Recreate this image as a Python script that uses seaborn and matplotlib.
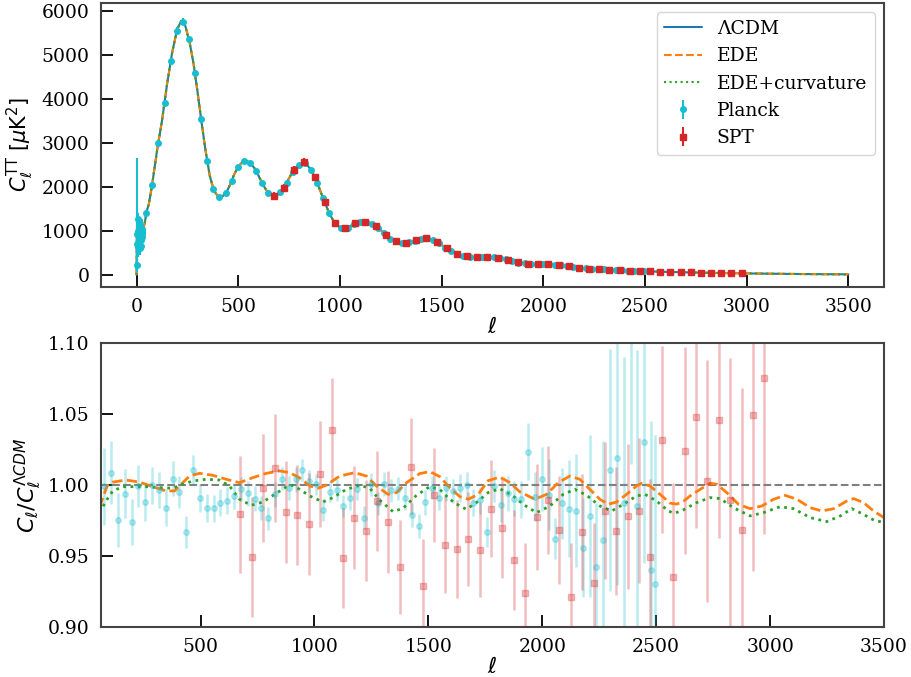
import numpy as np
import matplotlib
matplotlib.use('Agg')
import matplotlib.pyplot as plt
import seaborn as sns


# LCDM theory spectrum D_ell [muK^2] (EDE curves sit on top of it at this scale)
ell_th = [0, 2, 5, 10, 15, 20, 30, 40, 50, 60, 75, 100, 125, 150, 175, 200, 220, 240, 260, 280,
          300, 320, 340, 360, 380, 400, 420, 440, 460, 480, 500, 520, 540, 560, 580, 600, 620, 640,
          660, 680, 700, 720, 740, 760, 780, 800, 820, 840, 860, 880, 900, 920, 940, 960, 980, 1000,
          1020, 1040, 1060, 1080, 1100, 1120, 1140, 1160, 1180, 1200, 1220, 1240, 1260, 1280, 1300,
          1320, 1340, 1360, 1380, 1400, 1420, 1440, 1460, 1480, 1500, 1520, 1540, 1560, 1580, 1600,
          1640, 1680, 1720, 1760, 1800, 1840, 1880, 1920, 1960, 2000, 2040, 2080, 2120, 2160, 2200,
          2240, 2280, 2320, 2360, 2400, 2440, 2480, 2520, 2560, 2600, 2700, 2800, 2900, 3000, 3100,
          3200, 3300, 3400, 3500]
dl_lcdm = [0, 1010, 860, 800, 820, 870, 1000, 1170, 1450, 1600, 2000, 2800, 3500, 4330, 5050, 5580,
           5770, 5650, 5300, 4800, 4150, 3450, 2800, 2250, 1920, 1780, 1770, 1860, 2050, 2280, 2460,
           2560, 2590, 2540, 2420, 2250, 2060, 1910, 1820, 1800, 1840, 1950, 2110, 2280, 2420, 2510,
           2540, 2490, 2370, 2170, 1950, 1710, 1480, 1290, 1150, 1080, 1060, 1080, 1130, 1180, 1210,
           1215, 1200, 1160, 1100, 1020, 930, 850, 790, 755, 735, 730, 740, 765, 795, 820, 830, 820,
           790, 740, 680, 615, 560, 510, 470, 440, 410, 400, 400, 395, 370, 330, 290, 260, 245, 240,
           235, 222, 195, 168, 150, 140, 130, 118, 108, 102, 95, 87, 80, 74, 68, 58, 47, 40, 33, 27,
           22, 18, 15, 12]

# ratio of the EDE models to LCDM
ell_ede = [56, 90, 115, 173, 232, 291, 349, 386, 422, 452, 496, 554, 613, 671, 730, 789, 847, 891,
           935, 979, 1016, 1052, 1111, 1177, 1228, 1272, 1323, 1360, 1404, 1462, 1506, 1550, 1594,
           1638, 1675, 1719, 1762, 1814, 1858, 1902, 1968, 2019, 2070, 2121, 2165, 2209, 2253, 2290,
           2326, 2370, 2414, 2436, 2473, 2517, 2561, 2590, 2620, 2649, 2693, 2737, 2766, 2810, 2861,
           2912, 2964, 3015, 3066, 3118, 3176, 3227, 3279, 3337, 3367, 3410, 3454, 3500]
ratio_ede = [0.984, 0.9993, 1.002, 1.0035, 1.002, 0.9988, 0.9958, 0.9958, 1.0016, 1.0063, 1.0082,
             1.0068, 1.004, 1.0016, 1.0052, 1.0082, 1.0099, 1.0087, 1.005, 0.9993, 0.9977, 0.9998,
             1.0063, 1.0087, 1.0063, 0.9993, 0.9934, 0.9946, 1.0016, 1.008, 1.0094, 1.0059, 0.9981,
             0.9918, 0.9899, 0.9934, 1.003, 1.0056, 1.0016, 0.9951, 0.9899, 0.9934, 1.0016, 1.0063,
             1.004, 0.9969, 0.9899, 0.9864, 0.988, 0.9934, 0.9993, 1.0012, 0.9993, 0.9934, 0.9872,
             0.9865, 0.9885, 0.9923, 0.9969, 1.0012, 1.0005, 0.9946, 0.9864, 0.9833, 0.9852, 0.9899,
             0.9927, 0.9899, 0.984, 0.9817, 0.9833, 0.9887, 0.9904, 0.9876, 0.9817, 0.977]

ell_edec = [56, 90, 115, 159, 203, 261, 320, 378, 422, 466, 525, 583, 627, 671, 723, 774, 832, 876,
            905, 935, 979, 1037, 1081, 1140, 1199, 1243, 1286, 1345, 1389, 1448, 1506, 1550, 1594,
            1638, 1667, 1711, 1762, 1814, 1872, 1916, 1975, 2034, 2092, 2143, 2195, 2253, 2305, 2356,
            2414, 2451, 2502, 2553, 2580, 2620, 2678, 2737, 2781, 2839, 2912, 2971, 3044, 3103, 3176,
            3249, 3308, 3359, 3410, 3462, 3500]
ratio_edec = [0.9805, 0.9899, 0.9958, 0.9988, 0.9988, 0.9988, 0.9981, 0.9977, 1.0005, 1.0028, 1.004,
              1.0035, 0.9993, 0.9899, 0.9857, 0.988, 0.9941, 0.9986, 0.9998, 0.9969, 0.9923, 0.988,
              0.9911, 0.9969, 0.9998, 0.9977, 0.9894, 0.9812, 0.9836, 0.9927, 0.9988, 0.9969, 0.9899,
              0.9852, 0.9829, 0.9876, 0.9946, 0.9974, 0.9923, 0.9864, 0.9805, 0.9852, 0.9934, 0.9969,
              0.9927, 0.9852, 0.9817, 0.9864, 0.9923, 0.9934, 0.9887, 0.9817, 0.98, 0.9825, 0.9876,
              0.9911, 0.9904, 0.984, 0.9782, 0.9805, 0.9847, 0.9833, 0.977, 0.9742, 0.9782, 0.9833,
              0.9793, 0.9746, 0.9739]

# Planck low-ell (unbinned)
ell_planck_lo = list(range(2, 30))
dl_planck_lo = [226, 936, 692, 1276, 1003, 718, 904, 632, 837, 1038, 757, 976, 902, 818, 609, 1000,
                900, 1100, 782, 665, 864, 970, 924, 852, 1031, 978, 926, 985]
errm_planck_lo = [150, 450, 320, 540, 400, 280, 320, 220, 270, 310, 220, 260, 230, 200, 150, 230,
                  200, 230, 160, 130, 160, 170, 160, 150, 170, 160, 150, 150]
errp_planck_lo = [2420, 580, 450, 120, 350, 400, 380, 420, 330, 280, 380, 300, 300, 330, 420, 280,
                  300, 200, 330, 360, 290, 260, 270, 290, 230, 240, 250, 230]

# Planck binned
ell_planck = [47.5, 77.5, 107.5, 137.5, 167.5, 197.5, 227.5, 257.5, 287.5, 317.5, 347.5, 377.5,
              407.5, 437.5, 467.5, 497.5, 527.5, 557.5, 587.5, 617.5, 647.5, 677.5, 707.5, 737.5,
              767.5, 797.5, 827.5, 857.5, 887.5, 917.5, 947.5, 977.5, 1007.5, 1037.5, 1067.5, 1097.5,
              1127.5, 1157.5, 1187.5, 1217.5, 1247.5, 1277.5, 1307.5, 1337.5, 1367.5, 1397.5, 1427.5,
              1457.5, 1487.5, 1517.5, 1547.5, 1577.5, 1607.5, 1637.5, 1667.5, 1697.5, 1727.5, 1757.5,
              1787.5, 1817.5, 1847.5, 1877.5, 1907.5, 1937.5, 1967.5, 1997.5, 2027.5, 2057.5, 2087.5,
              2117.5, 2147.5, 2177.5, 2207.5, 2237.5, 2267.5, 2297.5, 2327.5, 2357.5, 2387.5, 2417.5,
              2447.5, 2477.5, 2497]
dl_planck = [1400, 2050, 3000, 3900, 4850, 5530, 5750, 5350, 4580, 3540, 2580, 1960, 1775, 1850,
             2130, 2440, 2575, 2550, 2360, 2080, 1860, 1800, 1880, 2090, 2330, 2500, 2530, 2390, 2090,
             1740, 1410, 1170, 1075, 1075, 1150, 1205, 1212, 1165, 1070, 940, 825, 760, 733, 738, 775,
             817, 828, 795, 720, 620, 545, 475, 435, 412, 403, 400, 400, 395, 378, 350, 313, 280, 262,
             252, 244, 240, 237, 230, 218, 197, 175, 158, 148, 140, 133, 122, 116, 109, 103, 99, 94,
             89, 85]
ratio_planck = [1.0, 0.999, 1.0087, 0.9754, 0.9939, 0.974, 0.9993, 0.9883, 0.9998, 0.9965, 0.984,
                1.0045, 0.9951, 0.9669, 1.0108, 0.9908, 0.9836, 0.9836, 0.9876, 0.989, 0.9923, 0.997,
                0.9941, 0.9904, 0.9836, 0.9765, 0.9934, 1.0045, 0.9977, 1.004, 1.0106, 1.0028, 1.0005,
                0.9824, 0.9953, 0.9965, 0.9852, 0.9906, 0.997, 0.977, 1.0005, 0.9871, 1.0007, 0.9962,
                0.9974, 0.9911, 0.9791, 0.9711, 0.988, 0.9981, 0.9911, 0.9977, 0.9958, 0.9977, 0.9998,
                0.9876, 0.9892, 0.9669, 0.9993, 0.9859, 0.9941, 0.9904, 0.9899, 1.0235, 0.9918, 1.0042,
                0.9932, 0.9622, 0.9873, 0.9833, 0.9819, 0.9559, 0.9782, 0.9423, 0.961, 1.0106, 1.0193,
                0.987, 1.115, 0.985, 1.03, 0.94, 0.93]
rerr_planck = [0.03, 0.027, 0.022, 0.019, 0.017, 0.016, 0.015, 0.0135, 0.013, 0.0128, 0.013, 0.0123,
               0.0114, 0.011, 0.0103, 0.010, 0.010, 0.0094, 0.0094, 0.0093, 0.0089, 0.0086, 0.0088,
               0.0086, 0.0086, 0.0082, 0.0087, 0.0082, 0.0086, 0.009, 0.0076, 0.0074, 0.0074, 0.0076,
               0.0076, 0.0076, 0.0075, 0.0079, 0.0079, 0.008, 0.008, 0.0082, 0.0082, 0.0082, 0.0082,
               0.0085, 0.0085, 0.0082, 0.0088, 0.0082, 0.0087, 0.0088, 0.0086, 0.0097, 0.0092, 0.0096,
               0.0097, 0.0105, 0.0111, 0.0117, 0.0123, 0.0123, 0.013, 0.0198, 0.017, 0.0223, 0.025,
               0.0143, 0.025, 0.034, 0.04, 0.035, 0.057, 0.045, 0.07, 0.085, 0.09, 0.103, 0.10, 0.11,
               0.085, 0.105, 0.105]

# SPT
ell_spt = [675, 725, 775, 825, 875, 925, 975, 1025, 1075, 1125, 1175, 1225, 1275, 1325, 1375, 1425,
           1475, 1525, 1575, 1625, 1675, 1725, 1775, 1825, 1875, 1925, 1975, 2025, 2075, 2125, 2175,
           2225, 2275, 2325, 2375, 2425, 2475, 2525, 2575, 2625, 2675, 2725, 2775, 2825, 2875, 2925,
           2975]
dl_spt = [1800, 1975, 2390, 2560, 2220, 1650, 1170, 1060, 1170, 1212, 1110, 910, 760, 732, 790, 830,
          750, 605, 478, 422, 402, 400, 385, 342, 282, 256, 244, 237, 224, 192, 160, 143, 131, 116,
          104, 96, 88, 80, 72, 67, 62, 57, 52, 46, 43, 40, 35]
ratio_spt = [0.9793, 0.9493, 0.9977, 1.012, 0.981, 0.9789, 0.9725, 1.0077, 1.0387, 0.9486, 0.977,
             0.9678, 0.9887, 0.9739, 0.9423, 1.0129, 0.9286, 0.993, 0.958, 0.9549, 0.9622, 0.9542,
             0.9833, 0.97, 0.9472, 0.9242, 0.9775, 0.9897, 0.9681, 0.9211, 0.9667, 0.931, 0.982,
             0.9678, 0.978, 0.982, 0.9495, 1.032, 0.9355, 1.0242, 1.0479, 1.0028, 1.046, 0.9897,
             0.968, 1.0493, 1.0754]
rerr_spt = [0.0413, 0.042, 0.038, 0.0378, 0.0356, 0.035, 0.0358, 0.0372, 0.0366, 0.035, 0.0364,
            0.0357, 0.0352, 0.0358, 0.033, 0.0343, 0.033, 0.0331, 0.0343, 0.0346, 0.0331, 0.0333,
            0.034, 0.0352, 0.0354, 0.035, 0.0376, 0.038, 0.038, 0.038, 0.041, 0.042, 0.048, 0.045,
            0.051, 0.051, 0.055, 0.066, 0.066, 0.073, 0.078, 0.085, 0.083, 0.1, 0.1, 0.11, 0.11]


sns.set_style('ticks')
plt.rcParams['font.family'] = 'DejaVu Serif'
plt.rcParams['mathtext.fontset'] = 'dejavusans'
plt.rcParams['axes.edgecolor'] = '#444444'
plt.rcParams['axes.linewidth'] = 1.5
plt.rcParams['text.color'] = 'black'
plt.rcParams['axes.labelcolor'] = 'black'
plt.rcParams['xtick.color'] = 'black'
plt.rcParams['ytick.color'] = 'black'

fig = plt.figure(figsize=(9.12, 6.77), dpi=100)
ax1 = fig.add_axes([0.1107, 0.5761, 0.8586, 0.4195])
ax2 = fig.add_axes([0.1107, 0.0739, 0.8586, 0.4195])

# top panel: spectra
sns.lineplot(x=ell_th, y=dl_lcdm, ax=ax1, color='tab:blue', lw=1.5, label='ΛCDM')
sns.lineplot(x=ell_th, y=dl_lcdm, ax=ax1, color='tab:orange', lw=1.5, linestyle='--', label='EDE')
sns.lineplot(x=ell_th, y=dl_lcdm, ax=ax1, color='tab:green', lw=1.5, linestyle=':',
             label='EDE+curvature')

dl_planck = np.array(dl_planck)
err_top = np.array(rerr_planck) * dl_planck
ell_all = ell_planck_lo + ell_planck
dl_all = np.concatenate([dl_planck_lo, dl_planck])
yerr_all = [np.concatenate([errm_planck_lo, err_top]), np.concatenate([errp_planck_lo, err_top])]
ax1.errorbar(ell_all, dl_all, yerr=yerr_all, fmt='o', color='tab:cyan', ms=4, label='Planck')
dl_spt = np.array(dl_spt)
ax1.errorbar(ell_spt, dl_spt, yerr=np.array(rerr_spt) * dl_spt, fmt='s', color='tab:red', ms=4,
             label='SPT')

ax1.set_xlim(-175, 3675)
ax1.set_ylim(-275, 6175)
ax1.set_xticks([0, 500, 1000, 1500, 2000, 2500, 3000, 3500])
ax1.set_yticks([0, 1000, 2000, 3000, 4000, 5000, 6000])
ax1.set_xlabel(r'$\ell$', fontsize=16, labelpad=0)
ax1.set_ylabel(r'$C_\ell^{\rm TT}\ [\mu{\rm K}^2]$', fontsize=15)
ax1.legend(loc='upper right', fontsize=13.5)

# bottom panel: ratios
ax2.errorbar(ell_planck, ratio_planck, yerr=rerr_planck, fmt='o', color='tab:cyan', ms=4,
             elinewidth=1.8, alpha=0.3)
ax2.errorbar(ell_spt, ratio_spt, yerr=rerr_spt, fmt='s', color='tab:red', ms=4,
             elinewidth=1.8, alpha=0.3)
ax2.axhline(1.0, color='gray', ls='--', lw=1.5)
sns.lineplot(x=ell_ede, y=ratio_ede, ax=ax2, color='tab:orange', lw=2, linestyle='--')
sns.lineplot(x=ell_edec, y=ratio_edec, ax=ax2, color='tab:green', lw=2, linestyle=':')

ax2.set_xlim(63, 3500)
ax2.set_ylim(0.9, 1.1)
ax2.set_xticks([500, 1000, 1500, 2000, 2500, 3000, 3500])
ax2.set_yticks([0.90, 0.95, 1.00, 1.05, 1.10])
ax2.set_xlabel(r'$\ell$', fontsize=16, labelpad=0)
ax2.set_ylabel(r'$C_\ell/C_\ell^{\Lambda CDM}$', fontsize=16)

for ax in (ax1, ax2):
    ax.tick_params(direction='in', length=8.5, width=1.3, pad=8, labelsize=13.5,
                   top=False, right=False, color='black')

fig.savefig('out.png', dpi=100)
